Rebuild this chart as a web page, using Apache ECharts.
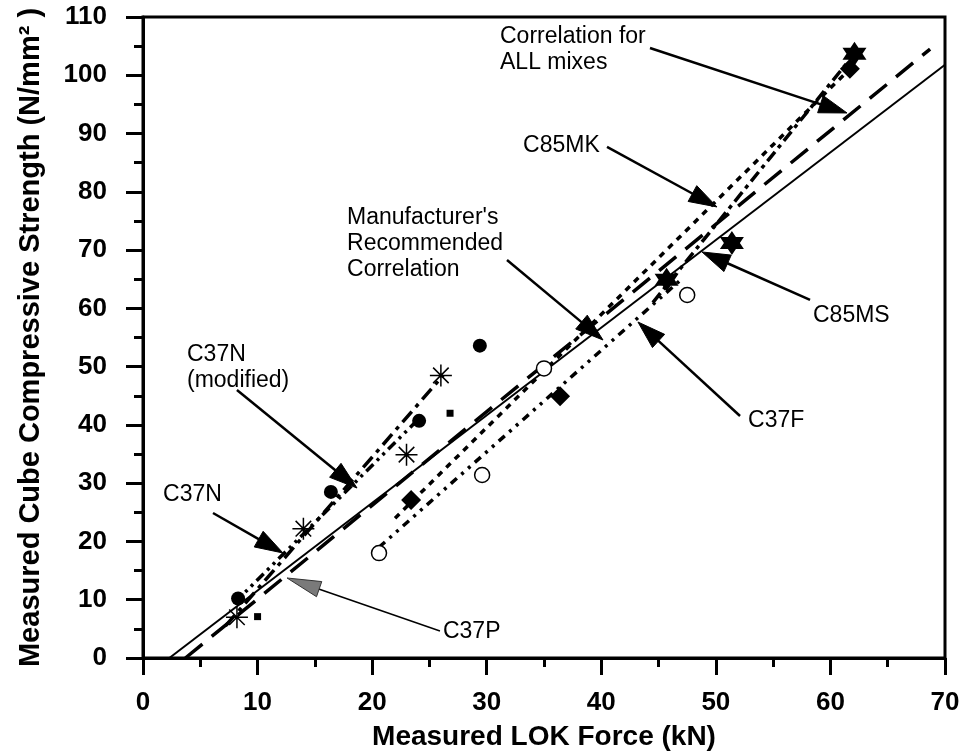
<!DOCTYPE html>
<html><head><meta charset="utf-8">
<script src="https://cdn.jsdelivr.net/npm/echarts@6/dist/echarts.min.js"></script>
<style>html,body{margin:0;padding:0;background:#fff}#c{width:966px;height:756px}</style>
</head><body><div id="c"></div>
<script>
// ---------- axis ticks ----------
const xTickLabels = ['0','10','20','30','40','50','60','70'];
const yTickLabels = ['0','10','20','30','40','50','60','70','80','90','100','110'];

// ---------- measured points ----------
const c37nX = [8.2, 14.0, 23.0, 26.0];          // asterisks
const c37nY = [7.0, 22.2, 34.9, 48.5];
const c37nModX = [8.3, 16.4, 24.1, 29.4];       // filled circles
const c37nModY = [10.2, 28.5, 40.7, 53.6];
const c37pX = [10.0, 26.8];                     // small squares
const c37pY = [7.1, 42.0];
const c37fX = [20.6, 29.6, 35.0, 47.5];         // open circles
const c37fY = [18.0, 31.4, 49.7, 62.3];
const c85mkX = [23.4, 36.4, 61.7];              // diamonds
const c85mkY = [27.1, 44.9, 101.1];
const c85msX = [45.7, 51.4, 62.1];              // filled stars
const c85msY = [64.9, 71.2, 103.7];

// ---------- correlation lines (end points) ----------
const manufLineX = [2.3, 70.0];   const manufLineY = [0, 101.8];
const allLineX   = [3.7, 68.7];   const allLineY   = [0, 104.5];
const c37nLineX  = [7.2, 26.2];   const c37nLineY  = [5.5, 48.5];
const c37nModLineX = [8.0, 24.3]; const c37nModLineY = [9.5, 41.5];
const c37fLineX  = [20.6, 47.0];  const c37fLineY  = [19.0, 65.0];
const c85mkLineX = [22.0, 61.7];  const c85mkLineY = [24.0, 101.1];
const c85msLineX = [44.5, 62.1];  const c85msLineY = [61.0, 103.7];

// ---------- annotation texts and arrows ----------
const noteTexts = ['Correlation for\nALL mixes', 'C85MK', "Manufacturer's\nRecommended\nCorrelation",
                   'C85MS', 'C37F', 'C37N\n(modified)', 'C37N', 'C37P'];
const noteX = [31.16, 33.17, 17.81, 58.48, 52.81, 3.84, 1.75, 26.18];
const noteY = [104.34, 87.87, 71.13, 58.69, 40.67, 49.77, 27.97, 4.46];
const arrowFromX = [44.25, 40.50, 31.77, 58.22, 52.11, 8.20, 6.11, 25.92];
const arrowFromY = [104.68, 87.70, 68.30, 61.44, 41.53, 45.99, 24.88, 4.63];
const arrowToX   = [61.45, 50.10, 40.15, 48.79, 43.20, 18.68, 12.22, 12.57];
const arrowToY   = [93.53, 77.40, 54.57, 69.68, 57.66, 29.17, 18.02, 13.73];

const FONT = "'Liberation Sans', Arial, Helvetica, sans-serif";
const zip = (xs, ys) => xs.map((x, i) => [x, ys[i]]);

const asterisk = 'path://M0,-10L0,10M-10,0L10,0M-7.07,-7.07L7.07,7.07M-7.07,7.07L7.07,-7.07';
const hexStar = 'path://M0,-10L2.89,-5L8.66,-5L5.77,0L8.66,5L2.89,5L0,10L-2.89,5L-8.66,5L-5.77,0L-8.66,-5L-2.89,-5Z';

function lineSeries(xs, ys, type, width) {
  return {
    type: 'line', data: zip(xs, ys), showSymbol: false, silent: true, z: 2,
    lineStyle: { color: '#000', width: width, type: type, cap: 'butt', opacity: 1 }
  };
}
function scatter(xs, ys, symbol, size, itemStyle) {
  return { type: 'scatter', data: zip(xs, ys), symbol: symbol, symbolSize: size, z: 4,
           itemStyle: Object.assign({ opacity: 1 }, itemStyle) };
}

const axisCommon = {
  type: 'value',
  axisLine: { show: true, lineStyle: { color: '#000', width: 3 } },
  axisTick: { show: true, inside: false, length: 17, lineStyle: { color: '#000', width: 3 } },
  minorTick: { show: true, splitNumber: 2, length: 9, lineStyle: { color: '#000', width: 3 } },
  splitLine: { show: false },
  minorSplitLine: { show: false }
};

const option = {
  animation: false,
  backgroundColor: '#fff',
  grid: { left: 143, right: 21, top: 17, bottom: 98, show: true, borderColor: '#000', borderWidth: 3 },
  xAxis: Object.assign({}, axisCommon, {
    min: 0, max: 70, interval: 10,
    axisLabel: { margin: 32, fontSize: 26, fontWeight: 'bold', fontFamily: FONT, color: '#000',
                 formatter: v => xTickLabels[Math.round(v / 10)] },
    name: 'Measured LOK Force (kN)', nameLocation: 'middle', nameGap: 65,
    nameTextStyle: { fontSize: 28, fontWeight: 'bold', fontFamily: FONT, color: '#000' }
  }),
  yAxis: Object.assign({}, axisCommon, {
    min: 0, max: 110, interval: 10,
    axisLabel: { margin: 36, fontSize: 26, fontWeight: 'bold', fontFamily: FONT, color: '#000',
                 formatter: v => yTickLabels[Math.round(v / 10)] },
    name: 'Measured Cube Compressive Strength (N/mm\u00B2 )', nameLocation: 'middle', nameGap: 98,
    nameTextStyle: { fontSize: 29, fontWeight: 'bold', fontFamily: FONT, color: '#000' }
  }),
  series: [
    lineSeries(manufLineX, manufLineY, 'solid', 2),
    lineSeries(allLineX, allLineY, [22, 12], 3.5),
    lineSeries(c37nLineX, c37nLineY, [14, 6, 4, 6], 3.5),
    lineSeries(c37nModLineX, c37nModLineY, [10, 5, 3, 5, 3, 5], 3.5),
    lineSeries(c37fLineX, c37fLineY, [8, 6, 3, 6, 3, 6], 3.5),
    lineSeries(c85mkLineX, c85mkLineY, [6, 6], 3.5),
    lineSeries(c85msLineX, c85msLineY, [12, 5, 4, 5], 3.5),
    scatter(c37nX, c37nY, asterisk, 22, { color: 'none', borderColor: '#000', borderWidth: 1.5 }),
    scatter(c37nModX, c37nModY, 'circle', 14, { color: '#000' }),
    scatter(c37pX, c37pY, 'rect', 7, { color: '#000' }),
    scatter(c37fX, c37fY, 'circle', 15, { color: '#fff', borderColor: '#000', borderWidth: 1.5 }),
    scatter(c85mkX, c85mkY, 'diamond', 20, { color: '#000' }),
    scatter(c85msX, c85msY, hexStar, 24, { color: '#000' }),
    {
      type: 'custom', silent: true, z: 5,
      data: arrowFromX.map((x, i) => [x, arrowFromY[i], arrowToX[i], arrowToY[i]]),
      renderItem: function (params, api) {
        const i = params.dataIndex;
        const p0 = api.coord([api.value(0), api.value(1)]);
        const p1 = api.coord([api.value(2), api.value(3)]);
        const dx = p1[0] - p0[0], dy = p1[1] - p0[1];
        const len = Math.sqrt(dx * dx + dy * dy);
        const ux = dx / len, uy = dy / len, nx = -uy, ny = ux;
        const gray = (i === noteTexts.length - 1);
        const L = gray ? 34 : 28, W = gray ? 16 : 18;
        const bx = p1[0] - ux * L, by = p1[1] - uy * L;
        return {
          type: 'group',
          children: [
            { type: 'line', shape: { x1: p0[0], y1: p0[1], x2: bx + ux * 2, y2: by + uy * 2 },
              style: { stroke: '#000', lineWidth: gray ? 1.5 : 2.5 } },
            { type: 'polygon',
              shape: { points: [[p1[0], p1[1]], [bx + nx * W / 2, by + ny * W / 2], [bx - nx * W / 2, by - ny * W / 2]] },
              style: { fill: gray ? '#7a7a7a' : '#000', stroke: gray ? '#333' : '#000', lineWidth: 1 } }
          ]
        };
      }
    },
    {
      type: 'custom', silent: true, z: 6,
      data: noteX.map((x, i) => [x, noteY[i]]),
      renderItem: function (params, api) {
        const i = params.dataIndex;
        const p = api.coord([api.value(0), api.value(1)]);
        return {
          type: 'text', x: p[0], y: p[1],
          style: { text: noteTexts[i], fontSize: 23, fontFamily: FONT, fill: '#000',
                   align: 'left', verticalAlign: 'middle', lineHeight: 26 }
        };
      }
    }
  ]
};

const chart = echarts.init(document.getElementById('c'), null, { renderer: 'canvas' });
chart.setOption(option);
</script>
</body></html>
